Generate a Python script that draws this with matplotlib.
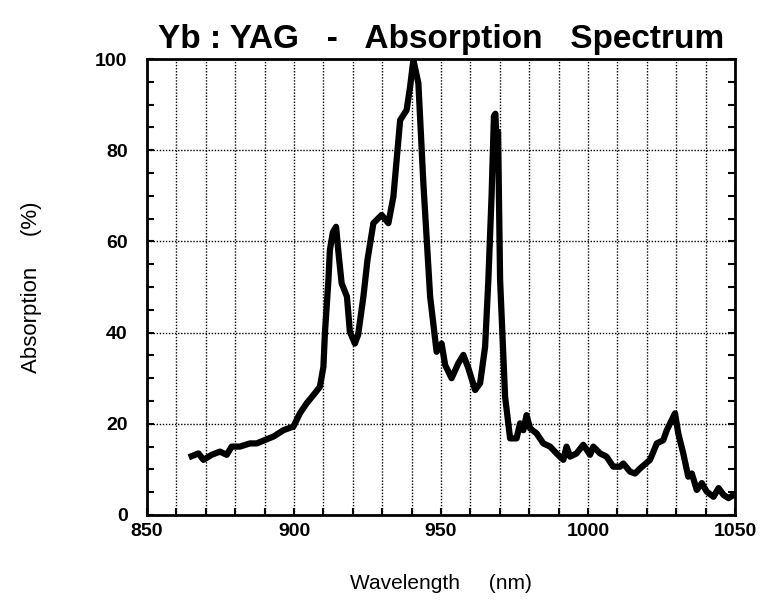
import numpy as np
import matplotlib
matplotlib.use('Agg')
import matplotlib.pyplot as plt
from matplotlib.ticker import MultipleLocator

# wavelength (nm) and absorption (%)
wavelength = [865.2, 867.5, 869.2, 872.0, 874.8, 877.1, 878.8, 881.6, 885.0, 887.3,
              890.7, 893.0, 896.4, 899.8, 902.0, 904.3, 906.6, 908.8, 910.0, 910.5,
              911.7, 912.2, 913.2, 914.3, 915.2, 916.2, 918.0, 919.0, 920.7, 921.8,
              923.6, 925.0, 927.0, 929.8, 932.1, 933.8, 936.1, 938.3, 939.5, 940.6,
              942.3, 944.0, 946.3, 948.5, 950.2, 951.4, 953.6, 955.9, 957.6, 959.3,
              961.6, 963.3, 965.0, 966.1, 967.2, 968.0, 968.5, 969.0, 969.4, 970.1,
              971.8, 973.5, 975.7, 976.9, 978.0, 979.1, 980.3, 982.5, 984.8, 987.1,
              989.3, 991.6, 992.7, 993.9, 996.1, 998.4, 1000.7, 1001.8, 1004.1, 1006.3,
              1008.6, 1010.9, 1012.0, 1014.3, 1016.0, 1017.7, 1021.1, 1023.4, 1025.6, 1026.8,
              1029.6, 1030.7, 1032.4, 1034.1, 1035.3, 1037.0, 1038.7, 1040.4, 1042.7, 1044.4,
              1046.1, 1047.8, 1049.5]
absorption = [12.9, 13.5, 12.1, 13.2, 13.9, 13.2, 15.0, 15.0, 15.7, 15.7,
              16.6, 17.2, 18.6, 19.4, 22.3, 24.5, 26.3, 28.1, 32.5, 39.8,
              51.5, 58.1, 62.0, 63.2, 57.0, 50.8, 47.9, 40.2, 37.6, 39.5,
              47.9, 56.0, 64.0, 65.8, 64.0, 69.8, 86.6, 88.8, 94.0, 99.8,
              94.7, 72.7, 47.9, 35.8, 37.6, 32.9, 30.0, 33.3, 35.1, 32.2,
              27.4, 28.9, 36.9, 51.5, 70.0, 87.5, 88.0, 80.0, 84.0, 51.5,
              25.9, 16.8, 16.8, 20.1, 18.6, 21.9, 19.0, 17.9, 15.7, 15.0,
              13.5, 12.1, 15.0, 12.8, 13.5, 15.4, 13.2, 15.0, 13.5, 12.8,
              10.6, 10.6, 11.3, 9.5, 9.1, 10.2, 12.1, 15.7, 16.4, 18.6,
              22.3, 17.9, 13.5, 8.4, 9.1, 5.5, 7.0, 5.1, 4.0, 5.9,
              4.4, 3.7, 4.4]

plt.rcParams['font.family'] = ['Liberation Sans', 'DejaVu Sans']

fig = plt.figure(figsize=(7.63, 6.01), dpi=100)
ax = fig.add_axes([0.1927, 0.1431, 0.7706, 0.7587])

ax.plot(wavelength, absorption, color='black', linewidth=4.5, solid_joinstyle='round')

ax.set_xlim(850, 1050)
ax.set_ylim(0, 100)
ax.xaxis.set_major_locator(MultipleLocator(50))
ax.xaxis.set_minor_locator(MultipleLocator(10))
ax.yaxis.set_major_locator(MultipleLocator(20))
ax.yaxis.set_minor_locator(MultipleLocator(5))

ax.grid(True, which='both', axis='x', color='black', linestyle=(0, (1, 1.2)), linewidth=1)
ax.grid(True, which='major', axis='y', color='black', linestyle=(0, (1, 1.2)), linewidth=1)

ax.tick_params(axis='x', which='both', direction='in', top=False, length=5, width=1.5)
ax.tick_params(axis='y', which='both', direction='in', left=True, right=True, length=5, width=1.5)
ax.tick_params(axis='x', which='major', labelsize=14, pad=6)
ax.tick_params(axis='y', which='major', labelsize=14, pad=14)
for lab in ax.get_xticklabels() + ax.get_yticklabels():
    lab.set_fontweight('bold')

for sp in ax.spines.values():
    sp.set_linewidth(2)

ax.set_title('Yb : YAG   -   Absorption   Spectrum', fontsize=24, fontweight='bold', pad=8)
ax.set_xlabel('Wavelength     (nm)', fontsize=15, labelpad=24)
ax.set_ylabel('Absorption     (%)', fontsize=16, labelpad=38)

fig.savefig('out.png', dpi=100)
